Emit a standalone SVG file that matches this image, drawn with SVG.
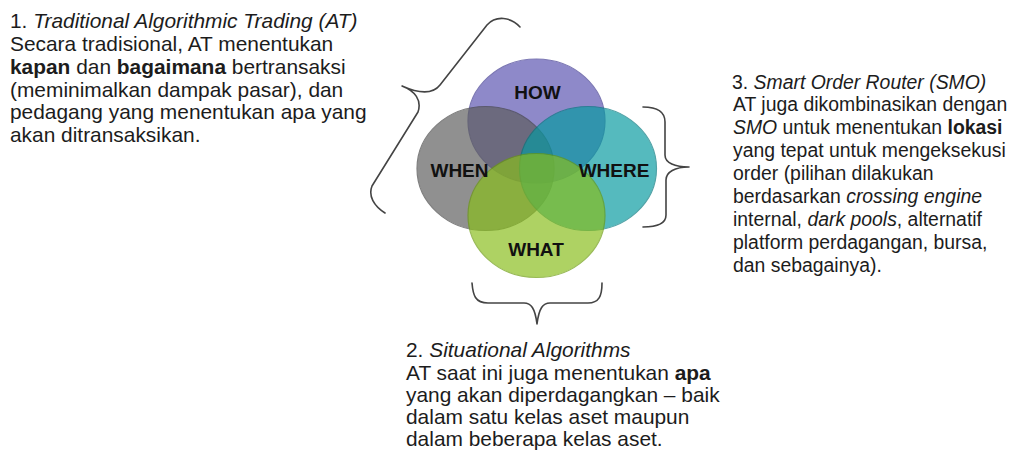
<svg xmlns="http://www.w3.org/2000/svg" width="1011" height="451" viewBox="0 0 1011 451">
<style>
.t{font-family:"Liberation Sans",Arial,sans-serif;fill:#1c1c1c}
.big{font-size:20.9px}
.sm{font-size:19.4px}
.i{font-style:italic}
.b{font-weight:bold}
.lbl{font-family:"Liberation Sans",Arial,sans-serif;font-weight:bold;font-size:19px;fill:#111;text-anchor:middle}
.brace{fill:none;stroke:#444;stroke-width:1.6;stroke-linecap:round;stroke-linejoin:round}
.c{stroke-width:1.2;opacity:0.68}
</style>
<rect width="1011" height="451" fill="#fff"/>

<g id="venn">
<g id="how"><ellipse class="c" cx="536.5" cy="121" rx="68.5" ry="62" fill="#5a52b0" stroke="#3e3890"/></g>
<g id="when"><ellipse class="c" cx="485.5" cy="168.5" rx="68.5" ry="62" fill="#5c5c5c" stroke="#444"/></g>
<g id="where"><ellipse class="c" cx="588" cy="168.5" rx="68.5" ry="62" fill="#069aa0" stroke="#00787e"/></g>
<g id="what"><ellipse class="c" cx="536.5" cy="215.5" rx="68.5" ry="62" fill="#88be1a" stroke="#6a9a0a"/></g>
<text class="lbl" x="537.5" y="98.5">HOW</text>
<text class="lbl" x="459.5" y="177">WHEN</text>
<text class="lbl" x="614" y="177">WHERE</text>
<text class="lbl" x="536" y="256">WHAT</text>
</g>

<g id="connectors">
<path class="brace" d="M520,27 C511,17 496,15 487,25 L440,85 C433,94 420,94 402,86 C415,91 422,100 418,112 L372,186 C368,196 374,206 385,213"/>
<path class="brace" d="M643,107 C655,107 665,110 665,122 L665,155 C665,163 675,167 689,167 C675,167 666,172 666,180 L666,215 C666,224 656,227 643,227"/>
<path class="brace" d="M472,283 C473,295 475,303 488,303 L524,303 C531,303 535,308 537,324 C539,308 543,303 550,303 L588,303 C599,303 602,296 602,283"/>
</g>

<g id="text-at">
<text class="t big" x="10" y="28">1. <tspan class="i">Traditional Algorithmic Trading (AT)</tspan></text>
<text class="t big" x="10" y="51">Secara tradisional, AT menentukan</text>
<text class="t big" x="10" y="73.5"><tspan class="b">kapan</tspan> dan <tspan class="b">bagaimana</tspan> bertransaksi</text>
<text class="t big" x="10" y="96.5">(meminimalkan dampak pasar), dan</text>
<text class="t big" x="10" y="119">pedagang yang menentukan apa yang</text>
<text class="t big" x="10" y="142">akan ditransaksikan.</text>
</g>

<g id="text-smo">
<text class="t sm" x="732" y="88.5">3. <tspan class="i">Smart Order Router (SMO)</tspan></text>
<text class="t sm" x="733" y="111.4">AT juga dikombinasikan dengan</text>
<text class="t sm" x="733" y="134.3"><tspan class="i">SMO</tspan> untuk menentukan <tspan class="b">lokasi</tspan></text>
<text class="t sm" x="733" y="157.2">yang tepat untuk mengeksekusi</text>
<text class="t sm" x="733" y="180.1">order (pilihan dilakukan</text>
<text class="t sm" x="733" y="203">berdasarkan <tspan class="i">crossing engine</tspan></text>
<text class="t sm" x="733" y="225.9">internal, <tspan class="i">dark pools</tspan>, alternatif</text>
<text class="t sm" x="733" y="248.8">platform perdagangan, bursa,</text>
<text class="t sm" x="733" y="271.7">dan sebagainya).</text>
</g>

<g id="text-situational">
<text class="t big" x="406" y="357">2. <tspan class="i">Situational Algorithms</tspan></text>
<text class="t big" x="406" y="379.5">AT saat ini juga menentukan <tspan class="b">apa</tspan></text>
<text class="t big" x="406" y="401.5">yang akan diperdagangkan – baik</text>
<text class="t big" x="406" y="424">dalam satu kelas aset maupun</text>
<text class="t big" x="406" y="446">dalam beberapa kelas aset.</text>
</g>
</svg>
